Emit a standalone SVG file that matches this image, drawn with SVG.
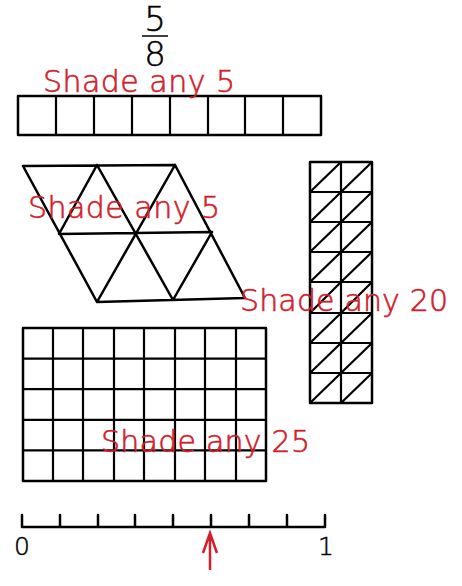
<svg xmlns="http://www.w3.org/2000/svg" width="462" height="586" viewBox="0 0 462 586">
<style>
.ln{stroke:#000;stroke-width:2.5;fill:none;stroke-linecap:round;stroke-linejoin:round}
.gl{stroke:#000;stroke-width:2.2;fill:none}
.red{fill:#d0202a;stroke:#d0202a;stroke-width:0.6;font-family:"DejaVu Sans",sans-serif;font-size:30px;font-weight:200}
.num{fill:#000;stroke:#000;stroke-width:0.5;font-family:"DejaVu Sans",sans-serif;font-weight:200}
</style>
<rect width="462" height="586" fill="#fff"/>
<g id="fraction">
<text class="num" x="155" y="31" font-size="34" text-anchor="middle">5</text>
<line x1="142" y1="36" x2="168" y2="36" stroke="#000" stroke-width="1.5"/>
<text class="num" x="155" y="66" font-size="34" text-anchor="middle">8</text>
</g>
<g id="strip">
<rect class="ln" x="18" y="96" width="303" height="39"/>
<path class="gl" d="M56 96V135M94 96V135M132 96V135M170 96V135M208 96V135M245 96V135M283 96V135"/>
<text class="red" x="43" y="92" textLength="192">Shade any 5</text>
</g>
<g id="parallelogram">
<path class="ln" d="M23 166L175 165M59 234L212 232M97 302L245 298M23 166L97 302M97 165L59 234M97 165L173 300M175 165L97 302M175 165L245 298M212 232L173 300"/>
<text class="red" x="28" y="218" textLength="192">Shade any 5</text>
</g>
<g id="column">
<rect class="ln" x="310" y="162" width="62" height="241"/>
<path class="gl" d="M341 162V403M310 192H372M310 222H372M310 252H372M310 282H372M310 313H372M310 343H372M310 373H372"/>
<path class="gl" d="M310 192L341 162M341 192L372 162M310 222L341 192M341 222L372 192M310 252L341 222M341 252L372 222M310 282L341 252M341 282L372 252M310 313L341 282M341 313L372 282M310 343L341 313M341 343L372 313M310 373L341 343M341 373L372 343M310 403L341 373M341 403L372 373"/>
<text class="red" x="240" y="311" textLength="208">Shade any 20</text>
</g>
<g id="grid">
<rect class="ln" x="23" y="328" width="243" height="153"/>
<path class="gl" d="M53 328V481M83 328V481M114 328V481M144 328V481M175 328V481M205 328V481M236 328V481M23 358.6H266M23 389.2H266M23 419.8H266M23 450.4H266"/>
<text class="red" x="101" y="452" textLength="209">Shade any 25</text>
</g>
<g id="numberline">
<path class="ln" d="M22 527H325M22 515V527M60 515V527M98 515V527M135 515V527M173 515V527M211 515V527M249 515V527M287 515V527M325 515V527"/>
<text class="num" x="22" y="555" font-size="25" text-anchor="middle">0</text>
<text class="num" x="326" y="555" font-size="25" text-anchor="middle">1</text>
</g>
<g id="connectors">
<path d="M210 570V533M203 553L210 533L217 553" stroke="#d0202a" stroke-width="2.5" fill="none"/>
</g>
</svg>
